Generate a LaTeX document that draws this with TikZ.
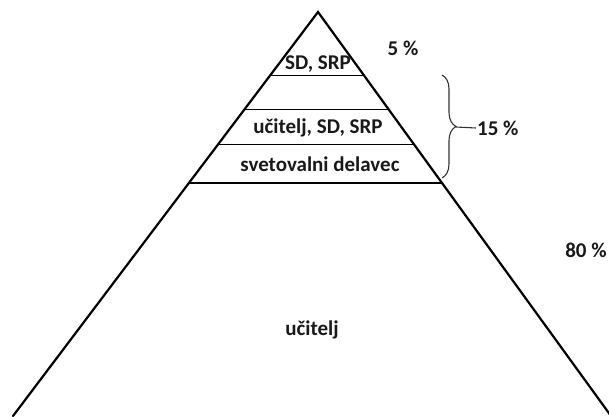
\documentclass[tikz,border=0pt]{standalone}
\usepackage{fontspec}
\setmainfont{Carlito}
\usetikzlibrary{calc,decorations.pathreplacing}
\tikzset{
  label_t/.style = {inner sep=1pt, text=black!90, font=\bfseries\fontsize{21}{24}\selectfont},% oznaka v piramidi
  pct_t/.style = {label_t},% odstotek
  side_l/.style = {line width=2.2pt, line cap=round},% stranica piramide
  level_l/.style = {line width=0.9pt},% meja med nivoji
  level_b/.style = {line width=1.4pt},% spodnja meja
  brace_l/.style = {line width=1.1pt, black!80, decorate,
    decoration={brace, amplitude=14pt}}% zaviti oklepaj
}
\begin{document}
\begin{tikzpicture}[x=1pt,y=-1pt]
\useasboundingbox (0,0) rectangle (609,416);
\clip (0,0) rectangle (609,416);
% piramida
\coordinate (apex) at (318,12);
\coordinate (baseL) at (13,416);
\coordinate (baseR) at (611,416);
\draw [side_l] (baseL) -- (apex) -- (baseR);
% nivoji
\foreach \f/\n/\w in {0.156/1/level_l, 0.240/2/level_l, 0.329/3/level_l, 0.423/4/level_b}{
  \path (apex) -- (baseL) coordinate [pos=\f] (lev\n L);
  \path (apex) -- (baseR) coordinate [pos=\f] (lev\n R);
  \draw [\w] (lev\n L) -- (lev\n R);
}
% oznake
\node [label_t] (sd) at (318,64) {SD, SRP};
\node [label_t] (usd) at (318,128) {učitelj, SD, SRP};
\node [label_t] (sv) at (320,164) {svetovalni delavec};
\node [label_t] (uc) at (312,330) {učitelj};
\node [pct_t] (p5) at (403,48) {5 \%};
\node [pct_t] (p80) at (586,250) {80 \%};
\node [pct_t, anchor=west] (p15) at (476,128) {15 \%};
% oklepaj
\coordinate (b1) at (442,75);
\coordinate (b2) at (442,178);
\draw [brace_l] (b1) -- (b2);
\coordinate (bt) at (456,127);
\draw [line width=1.1pt, black!80] (bt) -- (p15.west);
\end{tikzpicture}
\end{document}
